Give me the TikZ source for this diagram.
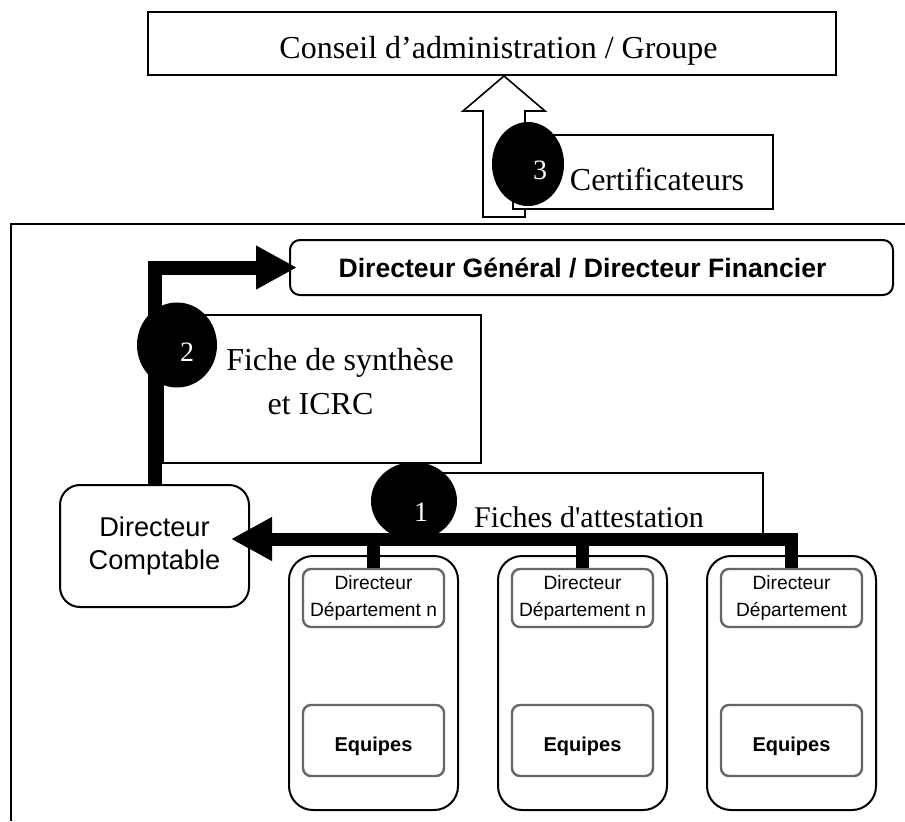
\documentclass[tikz,border=0pt]{standalone}
\usepackage{fontspec}
\setmainfont{Liberation Serif}
\setsansfont{Liberation Sans}
\usetikzlibrary{shapes.geometric,arrows.meta}

\tikzset{
  boite/.style={draw, line width=1pt, fill=white, inner sep=0pt},
  boiteronde/.style={boite, rounded corners=5pt},
  boiteinterne/.style={draw=black!60, line width=1.2pt, fill=white, rounded corners=4pt,
    inner sep=0pt, minimum width=70.5pt, align=center},
  pastille/.style={ellipse, fill=black, inner sep=0pt},
  numero/.style={text=white, inner sep=0pt, font=\fontsize{14}{16}\selectfont},
  texte/.style={anchor=base, inner sep=0pt, font=\fontsize{16}{19}\selectfont},
  fleche/.style={line width=7pt, line join=miter,
    -{Triangle[length=20.5pt,width=20.5pt]}},
  trait/.style={line width=6.5pt},
}

\begin{document}
\begin{tikzpicture}[x=0.5pt, y=-0.5pt]
   \useasboundingbox (0,0) rectangle (905,821);

   % Conseil et certificateurs
   \node[boite, minimum width=344pt, minimum height=31.5pt] (conseil) at (492,43.5) {};
   \node[texte] (conseiltxt) at (498.5,58) {Conseil d’administration / Groupe};
   \coordinate (pointe) at ([xshift=6pt]conseil.south);
   \draw[boite, line width=0.8pt] (pointe) -- ++(41,35) -- ++(-20,0) -- ++(0,106)
      -- ++(-42,0) -- ++(0,-106) -- ++(-20,0) -- cycle;
   \node[boite, minimum width=130pt, minimum height=37pt] (certif) at (643,172) {};
   \node[texte] (certiftxt) at (657,190) {Certificateurs};
   \node[pastille, minimum width=36pt, minimum height=42pt] (p3) at (528,164) {};
   \node[numero] (n3) at (540,170) {3};

   \draw[line width=1.4pt] (905,224) -- (11,224) -- (11,821);

   % Direction
   \node[boiteronde, minimum width=301.5pt, minimum height=27.5pt] (dg) at (591.5,267.5) {};
   \node[texte, font=\sffamily\bfseries\fontsize{13.3}{16}\selectfont] (dgtxt) at (582.5,277)
      {Directeur Général / Directeur Financier};
   \node[boiteronde, rounded corners=10pt, minimum width=94.5pt, minimum height=61pt,
      align=center, font=\sffamily\fontsize{13.6}{16.5}\selectfont] (compt) at (154.5,546)
      {Directeur\\Comptable};

   \node[boite, minimum width=159pt, minimum height=74pt] (synth) at (322,389) {};
   \node[texte] (synth1) at (340,370) {Fiche de synthèse};
   \node[texte] (synth2) at (320.5,414) {et ICRC};
   \draw[fleche] (compt.north) |- ([xshift=4pt]dg.west);
   \node[pastille, minimum width=40pt, minimum height=42.5pt] (p2) at (177,345) {};
   \node[numero] (n2) at (187,352) {2};

   % Departements
   \foreach \i/\x/\t in {1/373.5/Département n, 2/582.5/Département n, 3/791.5/Département}{
      \node[boiteronde, rounded corners=12pt, minimum width=84.5pt, minimum height=127pt]
         (dep\i) at (\x,683) {};
      \node[boiteinterne, minimum height=29pt, font=\sffamily\fontsize{9.6}{13.5}\selectfont]
         (dir\i) at (\x,598) {Directeur\\\t};
      \node[boiteinterne, minimum height=35.5pt, text height=10.5pt, text depth=0pt,
         font=\sffamily\bfseries\fontsize{10}{12}\selectfont] (eq\i) at (\x,740.5) {Equipes};
   }

   \node[boite, minimum width=176.5pt, minimum height=33.5pt] (attest) at (586.5,506.5) {};
   \node[texte, font=\fontsize{15}{18}\selectfont] (attesttxt) at (589,527)
      {Fiches d\textquotesingle attestation};
   \draw[fleche, line width=6.5pt] (dir3.north) |- ([xshift=-9.5pt,yshift=3.5pt]compt.east);
   \foreach \i in {1,2}
      \draw[trait] (dir\i.north) -- ++(0,-33);
   \node[pastille, minimum width=43pt, minimum height=39pt] (p1) at (414,501) {};
   \node[numero] (n1) at (421,512) {1};
\end{tikzpicture}
\end{document}
